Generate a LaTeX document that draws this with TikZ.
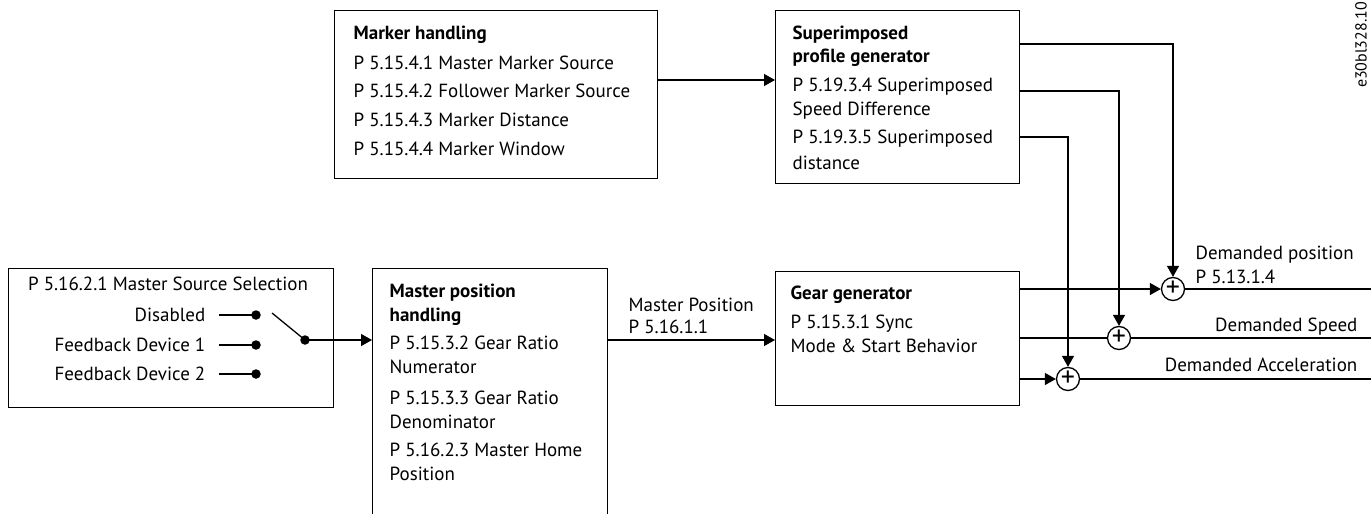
\documentclass[tikz,border=0pt]{standalone}
\usepackage{fontspec}
\setmainfont{PT Sans}
\usetikzlibrary{arrows.meta}
\tikzset{
  blk/.style={draw, line width=1.4pt, anchor=north west, inner sep=0pt},
  txt/.style={anchor=base west, inner sep=0pt},
  txtr/.style={anchor=base east, inner sep=0pt},
  sum/.style={draw, circle, line width=1.3pt, minimum size=23pt, inner sep=0pt},
  plus/.style={inner sep=0pt, font=\fontsize{28}{28}\selectfont},
  dot/.style={fill, circle, minimum size=9.5pt, inner sep=0pt},
  arr/.style={-{Triangle[length=11pt,width=12pt]}}
}
\begin{document}
\begin{tikzpicture}[x=1pt, y=-1pt, line width=1.3pt, font=\fontsize{19}{24}\selectfont]
  \useasboundingbox (0,0) rectangle (1371,514);
  % boxes
  \node[blk, minimum width=323pt, minimum height=168pt] (mark) at (334,10) {};
  \node[blk, minimum width=244pt, minimum height=173pt] (spg) at (775,10) {};
  \node[blk, minimum width=325pt, minimum height=139pt] (src) at (8,268) {};
  \node[blk, minimum width=235pt, minimum height=270pt] (mph) at (372,268) {};
  \node[blk, minimum width=244pt, minimum height=134pt] (gear) at (775,271) {};
  % box texts
  \foreach \y/\t in {39/{\bfseries Marker handling}, 69/P 5.15.4.1 Master Marker Source,
      97/P 5.15.4.2 Follower Marker Source, 126/P 5.15.4.3 Marker Distance, 155/P 5.15.4.4 Marker Window}
    \node[txt] (mark\y) at (353,\y) {\t};
  \foreach \y/\t in {39/{\bfseries Superimposed}, 62/{\bfseries profile generator},
      91/P 5.19.3.4 Superimposed, 115/Speed Difference, 143/P 5.19.3.5 Superimposed, 169/distance}
    \node[txt] (spg\y) at (792,\y) {\t};
  \foreach \y/\t in {297/{\bfseries Master position}, 321/{\bfseries handling},
      349/P 5.15.3.2 Gear Ratio, 373/Numerator, 404/P 5.15.3.3 Gear Ratio, 428/Denominator,
      456/P 5.16.2.3 Master Home, 480/Position}
    \node[txt] (mph\y) at (389,\y) {\t};
  \foreach \y/\t in {299/{\bfseries Gear generator}, 328/P 5.15.3.1 Sync, 352/Mode \& Start Behavior}
    \node[txt] (gear\y) at (790,\y) {\t};
  \node[anchor=base, inner sep=0pt] (srctitle) at (168,290) {P 5.16.2.1 Master Source Selection};
  % selector
  \foreach \i/\y/\t in {1/315/Disabled, 2/345/Feedback Device 1, 3/374/Feedback Device 2}{
    \node[txtr] (in\i) at (206,\y+6) {\t};
    \node[dot] (d\i) at (256,\y) {};
    \draw (d\i.center) -- ++(-37,0);
  }
  \node[dot] (piv) at (305,340) {};
  \coordinate (sw) at (272,313);
  \draw (sw) -- (piv.center);
  \draw[arr] (piv.center) -- (mph.west |- piv);
  % marker to superimposed
  \coordinate (mk) at (0,80);
  \draw[arr] (mark.east |- mk) -- (spg.west |- mk);
  % master position to gear
  \coordinate (mp) at (0,340);
  \draw[arr] (mph.east |- mp) -- (gear.west |- mp);
  \node[txt] (mplab) at (628,311) {Master Position};
  \node[txt] (mpnum) at (628,333) {P 5.16.1.1};
  % summing points
  \foreach \s/\x/\y in {spos/1173/289, sspd/1119/338, sacc/1068/379}{
    \node[sum] (\s) at (\x,\y) {};
    \node[plus] (\s p) at (\s) {+};
  }
  \draw[arr] (gear.east |- spos) -- (spos);
  \draw (gear.east |- sspd) -- (sspd);
  \draw[arr] (gear.east |- sacc) -- (sacc);
  \foreach \y/\s in {44/spos, 91/sspd, 137/sacc}{
    \coordinate (o\s) at (0,\y);
    \draw[arr] (spg.east |- o\s) -| (\s);
  }
  \coordinate (rim) at (1371,0);
  \foreach \s in {spos, sspd, sacc}
    \draw (\s) -- (\s -| rim);
  % outputs
  \node[txt] (dpos) at (1195,259) {Demanded position};
  \node[txt] (dposnum) at (1195,283) {P 5.13.1.4};
  \node[txtr] (dspd) at (1358,331) {Demanded Speed};
  \node[txtr] (dacc) at (1358,371) {Demanded Acceleration};
  \node[rotate=90, inner sep=0pt, font=\fontsize{16}{16}\selectfont] (ref) at (1361,45) {e30bl328.10};
\end{tikzpicture}
\end{document}
